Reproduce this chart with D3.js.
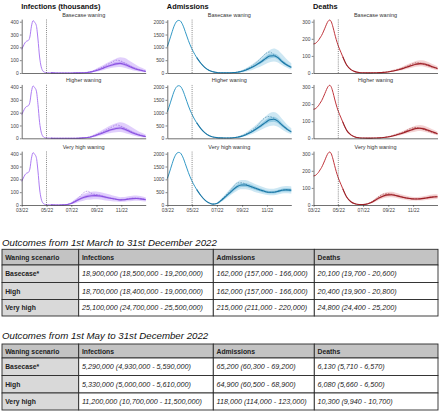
<!DOCTYPE html>
<html><head><meta charset="utf-8">
<script src="https://cdn.jsdelivr.net/npm/d3@7"></script>
<style>html,body{margin:0;padding:0;background:#fff;}svg{display:block;font-family:"Liberation Sans",Arial,Helvetica,sans-serif;}</style>
</head><body><svg id="c" width="440" height="412"></svg>
<script>
// ---------- DATA ----------
const fitDates = ["2022-03-01","2022-03-05","2022-03-09","2022-03-13","2022-03-17","2022-03-21","2022-03-25","2022-03-29","2022-04-02","2022-04-06","2022-04-10","2022-04-14","2022-04-18","2022-04-22","2022-04-26","2022-04-30","2022-05-04","2022-05-08","2022-05-12"];
const projDates = ["2022-05-12","2022-05-22","2022-06-01","2022-06-11","2022-06-21","2022-07-01","2022-07-11","2022-07-21","2022-07-31","2022-08-10","2022-08-20","2022-08-30","2022-09-09","2022-09-19","2022-09-29","2022-10-09","2022-10-19","2022-10-29","2022-11-08","2022-11-18","2022-11-28","2022-12-08","2022-12-18","2022-12-28","2022-12-31"];
const xTickDates = ["2022-03-01","2022-05-01","2022-07-01","2022-09-01","2022-11-01"];
const cutoffDate = "2022-05-01";

const measureTitles = ["Infections (thousands)","Admissions","Deaths"];
const scenarioTitles = ["Basecase waning","Higher waning","Very high waning"];
const infTicks = [0,100,200,300,400];
const admTicks = [0,500,1000,1500,2000];
const dthTicks = [0,100,200,300];

// fitted curves (shared by all scenarios)
const infFit = [185,210,235,248,253,280,365,408,395,370,265,125,48,16,6,3,2,1.5,1];
const admFit = [1030,1210,1410,1610,1800,1940,2025,2050,2030,1940,1800,1620,1440,1260,1100,960,830,715,610];
const dthFit = [170,172,180,190,205,220,240,262,285,303,310,298,268,230,195,165,140,118,95];

// Infections projections
const infBaseMed  = [1,0.5,0.3,0.3,0.3,0.4,0.6,1,2,4,9,18,28,40,52,62,71,75,68,55,42,30,21,14,12];
const infBaseLo95 = [0.5,0.2,0.1,0.1,0.1,0.2,0.3,0.5,1,2,4,9,15,24,33,40,45,46,40,31,22,15,9,6,5];
const infBaseHi95 = [2,1,0.6,0.6,0.7,0.9,1.4,2.5,5,9,18,32,48,65,82,98,112,122,118,102,82,62,45,32,28];
const infBaseLo50 = [0.8,0.4,0.2,0.2,0.2,0.3,0.5,0.8,1.5,3,7,14,22,33,44,53,61,64,57,45,33,23,16,10,9];
const infBaseHi50 = [1.3,0.7,0.4,0.4,0.4,0.6,0.9,1.5,3,6,12,24,36,50,63,75,85,90,84,70,55,41,30,21,18];
const infBaseAlt  = [1,0.5,0.3,0.3,0.4,0.5,0.8,1.4,3,6,12,24,36,52,68,84,100,96,80,62,46,33,24,16,13];

const infHighMed  = [1,0.5,0.3,0.3,0.4,0.5,0.8,1.4,3,6,12,22,33,46,58,68,76,80,72,58,44,32,22,15,13];
const infHighLo95 = [0.5,0.2,0.1,0.1,0.2,0.2,0.4,0.7,1.5,3,6,12,19,28,37,44,48,50,43,33,24,16,10,7,6];
const infHighHi95 = [2,1,0.6,0.7,0.8,1.1,1.7,3,6,11,21,37,54,72,90,105,118,126,120,104,84,64,47,34,30];
const infHighLo50 = [0.8,0.4,0.2,0.2,0.3,0.4,0.6,1.1,2.2,4.5,9,17,27,39,50,59,66,69,61,48,35,25,17,11,10];
const infHighHi50 = [1.3,0.7,0.4,0.4,0.5,0.7,1.1,2,4,8,15,28,41,55,68,79,88,93,86,72,57,43,31,22,19];
const infHighAlt  = [1,0.5,0.3,0.3,0.4,0.6,1,1.8,4,8,15,27,40,56,72,88,104,98,82,64,48,35,25,17,14];

const infVeryMed  = [1,0.5,0.5,1,4,12,28,45,58,67,72,73,70,64,57,51,45,40,41,46,50,51,48,43,42];
const infVeryLo95 = [0.5,0.2,0.2,0.5,2,6,14,25,34,40,43,44,42,38,34,30,27,24,25,29,32,33,31,27,26];
const infVeryHi95 = [2,1,1,2,8,22,46,68,86,98,104,106,102,94,85,76,68,61,62,68,73,74,70,63,61];
const infVeryLo50 = [0.8,0.4,0.4,0.8,3,9,22,37,49,57,61,62,60,55,49,44,39,34,35,40,43,44,41,37,36];
const infVeryHi50 = [1.3,0.7,0.7,1.3,5,16,35,55,70,80,85,86,82,75,67,60,53,47,48,54,58,59,56,50,49];
const infVeryAlt  = [1,0.5,0.5,1,4,14,34,62,95,108,90,82,76,66,58,50,44,40,42,48,53,54,50,45,44];

// Admissions projections
const admBaseMed  = [610,390,220,110,50,22,12,9,10,18,32,60,110,175,255,350,450,570,660,670,600,450,330,240,220];
const admBaseLo95 = [600,375,205,98,42,16,7,4,4,6,12,22,48,85,135,200,270,350,420,450,410,310,220,150,135];
const admBaseHi95 = [620,405,235,125,62,32,20,18,22,34,60,105,180,275,380,500,630,780,900,960,900,740,570,420,390];
const admBaseLo50 = [605,385,213,105,47,19,10,7,7,10,20,40,85,145,215,300,390,490,570,590,530,395,285,205,185];
const admBaseHi50 = [615,395,228,115,55,26,15,12,14,22,42,78,135,210,300,405,520,650,750,760,690,530,400,290,265];
const admBaseAlt  = [610,390,220,110,50,22,12,9,11,18,35,70,135,215,320,450,600,760,820,720,600,460,340,250,230];

const admHighMed  = [610,390,220,112,52,25,15,12,14,22,40,75,130,205,295,400,510,620,720,740,670,520,390,280,255];
const admHighLo95 = [600,375,205,100,44,18,9,6,7,11,22,42,80,130,190,265,340,420,480,500,450,340,250,175,160];
const admHighHi95 = [620,405,235,127,65,36,24,22,28,42,72,130,215,325,445,580,720,860,990,1030,950,760,580,430,400];
const admHighLo50 = [605,385,213,107,48,22,12,9,11,17,32,60,108,175,255,345,445,545,630,650,585,450,335,240,220];
const admHighHi50 = [615,395,228,117,57,29,18,15,18,28,50,92,158,245,345,465,590,710,820,840,760,600,450,330,300];
const admHighAlt  = [610,390,220,112,52,25,16,13,16,26,48,92,160,250,360,500,680,820,850,780,660,500,370,270,245];

const admVeryMed  = [610,380,200,85,35,60,170,310,450,600,720,780,780,740,680,620,570,520,495,500,530,575,590,580,575];
const admVeryLo95 = [600,370,190,75,25,35,110,220,340,460,560,610,610,580,530,480,440,400,380,385,410,445,455,445,440];
const admVeryHi95 = [620,390,212,98,48,90,240,410,580,760,900,970,970,920,850,780,720,660,630,635,670,720,740,730,725];
const admVeryLo50 = [605,375,195,80,30,48,140,265,395,530,640,700,700,665,610,555,510,465,445,450,475,515,530,520,515];
const admVeryHi50 = [615,385,205,90,40,72,200,355,505,670,800,860,860,815,750,685,630,575,550,555,585,635,650,640,635];
const admVeryAlt  = [610,380,200,85,35,65,190,350,520,700,860,870,820,740,670,610,560,515,490,500,535,580,595,585,580];

// Deaths projections
const dthBaseMed  = [95,45,20,8,3,1.5,1,1,1.5,2,3.5,6,10,15,21,28,36,44,51,55,53,46,37,29,26];
const dthBaseLo95 = [92,42,18,6.5,2,1,0.5,0.5,0.8,1.2,2,3.5,6,10,14,19,25,31,36,39,37,31,24,18,16];
const dthBaseHi95 = [98,48,22,10,4,2.2,1.8,1.8,2.5,3.5,6,10,16,23,31,41,51,61,70,75,73,64,53,43,39];
const dthBaseLo50 = [94,44,19,7.5,2.6,1.3,0.8,0.8,1.2,1.7,3,5,8.5,13,18,24,31,39,45,48,46,40,32,25,22];
const dthBaseHi50 = [96,46,21,9,3.5,1.8,1.3,1.3,1.9,2.6,4.5,7.5,12,18,25,33,42,50,58,62,60,53,43,34,31];
const dthBaseAlt  = [95,45,20,8,3,1.5,1,1.1,1.6,2.3,4,7,11,17,24,32,42,52,60,58,50,42,34,27,24];

const dthHighMed  = [95,45,20,8,3,1.6,1.2,1.2,1.8,2.6,4.5,7.5,12,18,25,33,42,50,57,59,55,47,38,30,27];
const dthHighLo95 = [92,42,18,6.5,2,1,0.6,0.6,1,1.5,2.6,4.5,7.5,12,17,23,29,35,40,42,39,32,25,19,17];
const dthHighHi95 = [98,48,22,10,4,2.4,2,2,2.8,4,7,11.5,18,26,35,45,56,66,75,78,74,64,53,43,39];
const dthHighLo50 = [94,44,19,7.5,2.6,1.4,0.9,0.9,1.5,2.2,3.8,6.4,10,15.5,21.5,29,37,44.5,50.5,52.5,48.5,41,33,26,23.5];
const dthHighHi50 = [96,46,21,9,3.5,1.9,1.5,1.5,2.2,3.1,5.3,8.8,14,21,29,38,48,56.5,64,66,61.5,53,43,34,31];
const dthHighAlt  = [95,45,20,8,3,1.6,1.3,1.3,2,3,5,9,14,21,29,38,50,60,64,58,50,42,34,27,25];

const dthVeryMed  = [95,45,19,7,3,3,6,14,28,42,53,59,60,56,50,44,39,36,35,36,39,43,46,48,48];
const dthVeryLo95 = [92,42,17,5.5,2,2,3.5,9,19,30,39,44,45,42,37,32,28,26,25,26,28,31,33,35,35];
const dthVeryHi95 = [98,48,21,9,4.5,4.5,9,21,38,56,69,76,77,72,65,58,52,48,47,48,52,57,61,63,63];
const dthVeryLo50 = [94,44,18,6.3,2.6,2.5,5,12,24,37,47,53,54,50,44.5,39,34.5,32,31,32,34.5,38,41,43,43];
const dthVeryHi50 = [96,46,20,8,3.5,3.6,7.5,17,32,48,60,66,67,62,55.5,49,44,40.5,39.5,40.5,44,48.5,51.5,53.5,53.5];
const dthVeryAlt  = [95,45,19,7,3,3,7,17,34,52,64,66,62,56,50,44,40,37,36,37,40,44,47,49,49];

// Tables
const tableHeaders = ["Waning scenario","Infections","Admissions","Deaths"];
const tableScenarios = ["Basecase*","High","Very high"];
const table1Title = "Outcomes from 1st March to 31st December 2022";
const t1Infections = ["18,900,000 (18,500,000 - 19,200,000)","18,700,000 (18,400,000 - 19,000,000)","25,100,000 (24,700,000 - 25,500,000)"];
const t1Admissions = ["162,000 (157,000 - 166,000)","162,000 (157,000 - 166,000)","215,000 (211,000 - 220,000)"];
const t1Deaths = ["20,100 (19,700 - 20,600)","20,400 (19,900 - 20,800)","24,800 (24,400 - 25,200)"];
const table2Title = "Outcomes from 1st May to 31st December 2022";
const t2Infections = ["5,290,000 (4,930,000 - 5,590,000)","5,330,000 (5,000,000 - 5,610,000)","11,200,000 (10,700,000 - 11,500,000)"];
const t2Admissions = ["65,200 (60,300 - 69,200)","64,900 (60,500 - 68,900)","118,000 (114,000 - 123,000)"];
const t2Deaths = ["6,130 (5,710 - 6,570)","6,080 (5,660 - 6,500)","10,300 (9,940 - 10,700)"];

// ---------- DRAW ----------
const parse = d3.timeParse("%Y-%m-%d");
const fitD = fitDates.map(parse), projD = projDates.map(parse);
const svg = d3.select("#c");
const W = 124, SPAN = 51.3;

const measures = [
  {title: measureTitles[0], left: 21.7, ticks: infTicks, yMax: 420, fit: infFit,
   col: {line:"#ad7cf3", med:"#8b52e0", outer:"#dcc7fc", inner:"#bf9df8", alt:"#7e44d6"},
   proj: [[infBaseMed,infBaseLo95,infBaseHi95,infBaseLo50,infBaseHi50,infBaseAlt],
          [infHighMed,infHighLo95,infHighHi95,infHighLo50,infHighHi50,infHighAlt],
          [infVeryMed,infVeryLo95,infVeryHi95,infVeryLo50,infVeryHi50,infVeryAlt]]},
  {title: measureTitles[1], left: 167.3, ticks: admTicks, yMax: 2080, fit: admFit,
   col: {line:"#3399c6", med:"#1a77a6", outer:"#c4e3f1", inner:"#84c3df", alt:"#17658f"},
   proj: [[admBaseMed,admBaseLo95,admBaseHi95,admBaseLo50,admBaseHi50,admBaseAlt],
          [admHighMed,admHighLo95,admHighHi95,admHighLo50,admHighHi50,admHighAlt],
          [admVeryMed,admVeryLo95,admVeryHi95,admVeryLo50,admVeryHi50,admVeryAlt]]},
  {title: measureTitles[2], left: 313.5, ticks: dthTicks, yMax: 315, fit: dthFit,
   col: {line:"#c0343b", med:"#9c1f26", outer:"#f2cdce", inner:"#de9598", alt:"#8a1a20"},
   proj: [[dthBaseMed,dthBaseLo95,dthBaseHi95,dthBaseLo50,dthBaseHi50,dthBaseAlt],
          [dthHighMed,dthHighLo95,dthHighHi95,dthHighLo50,dthHighHi50,dthHighAlt],
          [dthVeryMed,dthVeryLo95,dthVeryHi95,dthVeryLo50,dthVeryHi50,dthVeryAlt]]}
];
const rowZero = [73, 138.3, 205];

measures.forEach((m, ci) => {
  const x = d3.scaleTime().domain([parse("2022-03-01"), parse("2022-12-31")]).range([m.left, m.left + W]);
  svg.append("text").attr("x", m.left - 0.5).attr("y", 8.6)
    .attr("font-size", 7.4).attr("font-weight", "bold").attr("fill", "#111").text(m.title);
  const topTick = m.ticks[m.ticks.length - 1];
  rowZero.forEach((z, ri) => {
    const y = d3.scaleLinear().domain([0, m.yMax]).range([z, z - SPAN * m.yMax / topTick]);
    const g = svg.append("g");
    g.append("text").attr("x", m.left + W / 2).attr("y", z - 56).attr("text-anchor", "middle")
      .attr("font-size", 5.5).attr("fill", "#333").text(scenarioTitles[ri]);
    const [med, lo95, hi95, lo50, hi50, alt] = m.proj[ri];
    const area = (lo, hi) => d3.area().curve(d3.curveMonotoneX)
      .x((d, i) => x(d)).y0((d, i) => y(lo[i])).y1((d, i) => y(hi[i]))(projD);
    const line = (arr, dates) => d3.line().curve(d3.curveMonotoneX)
      .x((d, i) => x(d)).y((d, i) => y(arr[i]))(dates);
    g.append("path").attr("d", area(lo95, hi95)).attr("fill", m.col.outer).attr("opacity", 0.85);
    g.append("path").attr("d", area(lo50, hi50)).attr("fill", m.col.inner).attr("opacity", 0.75);
    g.append("path").attr("d", line(alt, projD)).attr("fill", "none").attr("stroke", m.col.alt)
      .attr("stroke-width", 0.6).attr("stroke-dasharray", "1.6,1.2").attr("opacity", 0.8);
    g.append("path").attr("d", line(med, projD)).attr("fill", "none").attr("stroke", m.col.med).attr("stroke-width", 1.1);
    g.append("path").attr("d", line(m.fit, fitD)).attr("fill", "none").attr("stroke", m.col.line).attr("stroke-width", 1);
    // cutoff
    g.append("line").attr("x1", x(parse(cutoffDate))).attr("x2", x(parse(cutoffDate)))
      .attr("y1", z).attr("y2", y(m.yMax)).attr("stroke", "#555").attr("stroke-width", 0.7)
      .attr("stroke-dasharray", "1,1.1");
    // y axis
    const ya = g.append("g").attr("transform", `translate(${m.left},0)`)
      .call(d3.axisLeft(y).tickValues(m.ticks).tickFormat(d3.format("d")).tickSize(1.8).tickSizeOuter(0).tickPadding(1.2));
    ya.select(".domain").attr("stroke", "#333").attr("stroke-width", 0.7);
    ya.selectAll(".tick line").attr("stroke", "#333").attr("stroke-width", 0.6);
    ya.selectAll("text").attr("font-size", 4.9).attr("fill", "#444").attr("font-family", null);
    // x axis
    const xa = g.append("g").attr("transform", `translate(0,${z})`)
      .call(d3.axisBottom(x).tickValues(xTickDates.map(parse)).tickFormat(d3.timeFormat("%m/%y"))
        .tickSize(ri === 2 ? 1.8 : 0).tickSizeOuter(0).tickPadding(1.6));
    xa.select(".domain").attr("stroke", "#333").attr("stroke-width", 0.7);
    xa.selectAll(".tick line").attr("stroke", "#333").attr("stroke-width", 0.6);
    xa.selectAll("text").attr("font-size", 4.9).attr("fill", "#444").attr("font-family", null);
    if (ri !== 2) xa.selectAll("text").remove();
  });
});

// tables
const colX = [2, 78.7, 213.3, 314.3, 438];
function drawTable(title, titleY, rowY, cols) {
  svg.append("text").attr("x", 2).attr("y", titleY).attr("font-size", 9.7)
    .attr("font-style", "italic").attr("fill", "#111").text(title);
  const g = svg.append("g");
  for (let r = 0; r < 4; r++) {
    for (let c = 0; c < 4; c++) {
      const fill = r === 0 ? "#c3c3c3" : (c === 0 ? "#d9d9d9" : "#ffffff");
      g.append("rect").attr("x", colX[c]).attr("y", rowY[r])
        .attr("width", colX[c + 1] - colX[c]).attr("height", rowY[r + 1] - rowY[r])
        .attr("fill", fill).attr("stroke", "#2a2a2a").attr("stroke-width", 0.9);
      let txt, bold = false, italic = false;
      if (r === 0) { txt = tableHeaders[c]; bold = true; }
      else if (c === 0) { txt = tableScenarios[r - 1]; bold = true; }
      else { txt = cols[c - 1][r - 1]; italic = true; }
      g.append("text").attr("x", colX[c] + 3.2).attr("y", (rowY[r] + rowY[r + 1]) / 2 + 2.5)
        .attr("font-size", bold ? 6.8 : 7.2).attr("font-weight", bold ? "bold" : "normal")
        .attr("font-style", italic ? "italic" : "normal").attr("fill", "#222").text(txt);
    }
  }
}
drawTable(table1Title, 246, [249.3, 265, 282.5, 299.5, 316], [t1Infections, t1Admissions, t1Deaths]);
drawTable(table2Title, 338.5, [344, 358, 375.5, 393, 410], [t2Infections, t2Admissions, t2Deaths]);
</script>
</body></html>
